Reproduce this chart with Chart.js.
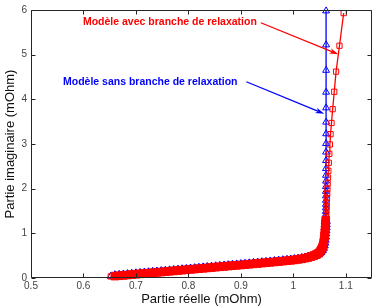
<!DOCTYPE html>
<html>
<head>
<meta charset="utf-8">
<script src="https://cdn.jsdelivr.net/npm/chart.js@4"></script>
<style>
  html, body { margin: 0; padding: 0; background: #fff; }
  canvas { display: block; }
</style>
</head>
<body>
<canvas id="myChart" width="377" height="306"></canvas>
<script>
// axis ticks
const xTickValues = [0.5, 0.6, 0.7, 0.8, 0.9, 1.0, 1.1];
const xTickLabels = ['0.5', '0.6', '0.7', '0.8', '0.9', '1', '1.1'];
const yTickValues = [0, 1, 2, 3, 4, 5, 6];
const yTickLabels = ['0', '1', '2', '3', '4', '5', '6'];

// model with relaxation branch (red squares), real / imaginary part in mOhm
const redRe = [
  0.652, 0.66, 0.668, 0.676, 0.684, 0.692, 0.70, 0.708, 0.716, 0.724,
  0.732, 0.74, 0.748, 0.756, 0.764, 0.772, 0.78, 0.788, 0.796, 0.804,
  0.812, 0.82, 0.828, 0.836, 0.844, 0.852, 0.86, 0.868, 0.876, 0.884,
  0.892, 0.90, 0.908, 0.916, 0.924, 0.932, 0.94, 0.948, 0.956, 0.964,
  0.972, 0.98, 0.988, 0.995, 1.002, 1.009, 1.016, 1.022, 1.028, 1.034,
  1.039, 1.044, 1.048, 1.051, 1.0535, 1.0555, 1.057, 1.058, 1.0588, 1.0595,
  1.0601, 1.0606, 1.061, 1.0614, 1.0618, 1.0622, 1.0626, 1.063, 1.0634, 1.0638,
  1.0642, 1.0646, 1.065, 1.0655, 1.0661, 1.0668, 1.0676, 1.0686, 1.0697, 1.071,
  1.0728, 1.075, 1.078, 1.0815, 1.088, 1.096
];
const redIm = [
  0.035, 0.043, 0.051, 0.059, 0.067, 0.076, 0.085, 0.093, 0.101, 0.109,
  0.118, 0.126, 0.134, 0.143, 0.151, 0.159, 0.168, 0.176, 0.184, 0.193,
  0.201, 0.209, 0.218, 0.226, 0.234, 0.243, 0.251, 0.259, 0.268, 0.276,
  0.284, 0.292, 0.300, 0.309, 0.317, 0.325, 0.334, 0.342, 0.351, 0.360,
  0.369, 0.378, 0.387, 0.396, 0.406, 0.417, 0.43, 0.444, 0.46, 0.48,
  0.50, 0.525, 0.555, 0.59, 0.635, 0.685, 0.74, 0.80, 0.865, 0.935,
  1.01, 1.08, 1.15, 1.22, 1.29, 1.36, 1.44, 1.52, 1.60, 1.69,
  1.79, 1.89, 2.00, 2.12, 2.25, 2.40, 2.58, 2.78, 2.99, 3.22,
  3.47, 3.78, 4.17, 4.62, 5.20, 5.93
];

// model without relaxation branch (blue triangles)
const blueRe = [
  0.652, 0.66, 0.668, 0.676, 0.684, 0.692, 0.70, 0.708, 0.716, 0.724,
  0.732, 0.74, 0.748, 0.756, 0.764, 0.772, 0.78, 0.788, 0.796, 0.804,
  0.812, 0.82, 0.828, 0.836, 0.844, 0.852, 0.86, 0.868, 0.876, 0.884,
  0.892, 0.90, 0.908, 0.916, 0.924, 0.932, 0.94, 0.948, 0.956, 0.964,
  0.972, 0.98, 0.988, 0.995, 1.002, 1.009, 1.016, 1.022, 1.028, 1.034,
  1.039, 1.044, 1.048, 1.0515, 1.0545, 1.0565, 1.058, 1.059, 1.0598, 1.0604,
  1.0609, 1.0613, 1.0616, 1.0618, 1.0619, 1.062, 1.062, 1.062, 1.0621, 1.0621,
  1.0621, 1.0622, 1.0622, 1.0622, 1.0623, 1.0623, 1.0623, 1.0624, 1.0624, 1.0624,
  1.0625, 1.0625, 1.0625, 1.0625, 1.0625, 1.0625, 1.0625
];
const blueIm = [
  0.039, 0.047, 0.055, 0.063, 0.071, 0.080, 0.089, 0.097, 0.105, 0.113,
  0.122, 0.130, 0.138, 0.147, 0.155, 0.163, 0.172, 0.180, 0.188, 0.197,
  0.205, 0.213, 0.222, 0.230, 0.238, 0.247, 0.255, 0.263, 0.272, 0.280,
  0.288, 0.296, 0.304, 0.313, 0.321, 0.329, 0.338, 0.346, 0.355, 0.364,
  0.373, 0.382, 0.391, 0.399, 0.408, 0.418, 0.43, 0.443, 0.458, 0.477,
  0.497, 0.52, 0.55, 0.585, 0.63, 0.68, 0.735, 0.795, 0.86, 0.93,
  1.00, 1.07, 1.14, 1.21, 1.28, 1.35, 1.42, 1.49, 1.57, 1.65,
  1.74, 1.84, 1.94, 2.05, 2.17, 2.30, 2.45, 2.63, 2.82, 3.01,
  3.23, 3.49, 3.81, 4.16, 4.65, 5.22, 5.98
];

// text labels with arrows, placed in data coordinates
const noteText = ['Modèle avec branche de relaxation', 'Modèle sans branche de relaxation'];
const noteColor = ['#ff0000', '#0000ff'];
const notePlace = [
  {text: [0.599, 5.74], from: [0.938, 5.715], to: [1.0857, 5.01]},
  {text: [0.561, 4.39], from: [0.9105, 4.394], to: [1.0589, 3.675]}
];

const FONT = '"Liberation Sans", Arial, sans-serif';

function toPoints(re, im) {
  return re.map((x, i) => ({x: x, y: im[i]}));
}

// markers are hollow, except where they pile up into a solid band
function isDense(c) {
  return c.raw && c.raw.y < 1.3 && c.dataIndex > 0;
}
function markerFill(color) {
  return (c) => isDense(c) ? color : 'rgba(255,255,255,0)';
}
function markerSize(sparse, dense) {
  return (c) => isDense(c) ? dense : sparse;
}

// box round the plot with ticks pointing inwards (matlab style)
const boxPlugin = {
  id: 'box',
  afterDatasetsDraw(chart) {
    const {ctx, chartArea: a, scales: {x, y}} = chart;
    const L = Math.round(a.left) + 0.5, R = Math.round(a.right) - 0.5;
    const T = Math.round(a.top) + 0.5, B = Math.round(a.bottom) - 0.5;
    const tick = 4;
    ctx.save();
    ctx.strokeStyle = '#262626';
    ctx.lineWidth = 1;
    ctx.beginPath();
    ctx.rect(L, T, R - L, B - T);
    xTickValues.forEach(v => {
      const px = Math.round(x.getPixelForValue(v)) + 0.5;
      ctx.moveTo(px, B); ctx.lineTo(px, B - tick);
      ctx.moveTo(px, T); ctx.lineTo(px, T + tick);
    });
    yTickValues.forEach(v => {
      const py = Math.round(y.getPixelForValue(v)) + 0.5;
      ctx.moveTo(L, py); ctx.lineTo(L + tick, py);
      ctx.moveTo(R, py); ctx.lineTo(R - tick, py);
    });
    ctx.stroke();
    ctx.restore();
  }
};

function drawArrow(ctx, x0, y0, x1, y1, color) {
  const ang = Math.atan2(y1 - y0, x1 - x0);
  const len = 9, half = 2.8;
  ctx.strokeStyle = color;
  ctx.fillStyle = color;
  ctx.lineWidth = 1.3;
  ctx.beginPath();
  ctx.moveTo(x0, y0);
  ctx.lineTo(x1 - Math.cos(ang) * len * 0.7, y1 - Math.sin(ang) * len * 0.7);
  ctx.stroke();
  ctx.save();
  ctx.translate(x1, y1);
  ctx.rotate(ang);
  ctx.beginPath();
  ctx.moveTo(0, 0);
  ctx.lineTo(-len, -half);
  ctx.lineTo(-len * 0.7, 0);
  ctx.lineTo(-len, half);
  ctx.closePath();
  ctx.fill();
  ctx.restore();
}

const notePlugin = {
  id: 'notes',
  afterDraw(chart) {
    const {ctx, scales: {x, y}} = chart;
    ctx.save();
    ctx.font = 'bold 10.5px ' + FONT;
    ctx.textBaseline = 'middle';
    ctx.textAlign = 'left';
    notePlace.forEach((p, i) => {
      ctx.fillStyle = noteColor[i];
      ctx.fillText(noteText[i], x.getPixelForValue(p.text[0]), y.getPixelForValue(p.text[1]));
      drawArrow(ctx,
        x.getPixelForValue(p.from[0]), y.getPixelForValue(p.from[1]),
        x.getPixelForValue(p.to[0]), y.getPixelForValue(p.to[1]), noteColor[i]);
    });
    ctx.restore();
  }
};

let ctx = document.getElementById('myChart').getContext('2d');
let chart = new Chart(ctx, {
  type: 'scatter',
  data: {
    datasets: [{
      label: 'Modèle avec branche de relaxation',
      data: toPoints(redRe, redIm),
      showLine: true,
      borderColor: '#ff0000',
      borderWidth: 1.3,
      pointStyle: 'rect',
      pointRadius: markerSize(3.7, 5.4),
      pointBorderWidth: 1,
      pointBorderColor: '#ff0000',
      pointBackgroundColor: markerFill('#ff0000'),
      clip: false,
      order: 1
    }, {
      label: 'Modèle sans branche de relaxation',
      data: toPoints(blueRe, blueIm),
      showLine: true,
      borderColor: '#0000ff',
      borderWidth: 1.3,
      pointStyle: 'triangle',
      pointRadius: markerSize(4, 5.2),
      pointBorderWidth: 1,
      pointBorderColor: '#0000ff',
      pointBackgroundColor: markerFill('#0000ff'),
      clip: false,
      order: 2
    }]
  },
  options: {
    responsive: false,
    animation: false,
    devicePixelRatio: 1,
    layout: { padding: { top: 9, right: 5, left: 0, bottom: 0 }, autoPadding: false },
    plugins: {
      legend: { display: false },
      tooltip: { enabled: false }
    },
    scales: {
      x: {
        type: 'linear',
        position: 'bottom',
        min: 0.5,
        max: 1.15,
        grid: { display: false, drawTicks: false },
        border: { display: false },
        afterBuildTicks: (s) => { s.ticks = xTickValues.map(v => ({value: v})); },
        afterFit: (s) => { s.height = 28; },
        ticks: {
          padding: 2,
          color: '#444',
          autoSkip: false,
          maxRotation: 0,
          font: { family: FONT, size: 10 },
          callback: (v, i) => xTickLabels[i]
        },
        title: {
          display: true,
          text: 'Partie réelle (mOhm)',
          color: '#111',
          font: { family: FONT, size: 13, lineHeight: 0.95 },
          padding: { top: 0, bottom: 0 }
        }
      },
      y: {
        type: 'linear',
        position: 'left',
        min: 0,
        max: 6,
        grid: { display: false, drawTicks: false },
        border: { display: false },
        afterBuildTicks: (s) => { s.ticks = yTickValues.map(v => ({value: v})); },
        afterFit: (s) => { s.width = 31; },
        ticks: {
          padding: 4,
          color: '#444',
          autoSkip: false,
          font: { family: FONT, size: 10 },
          callback: (v, i) => yTickLabels[i]
        },
        title: {
          display: true,
          text: 'Partie imaginaire (mOhm)',
          color: '#111',
          font: { family: FONT, size: 13 },
          padding: { top: 3, bottom: 0 }
        }
      }
    }
  },
  plugins: [boxPlugin, notePlugin]
});
</script>
</body>
</html>
